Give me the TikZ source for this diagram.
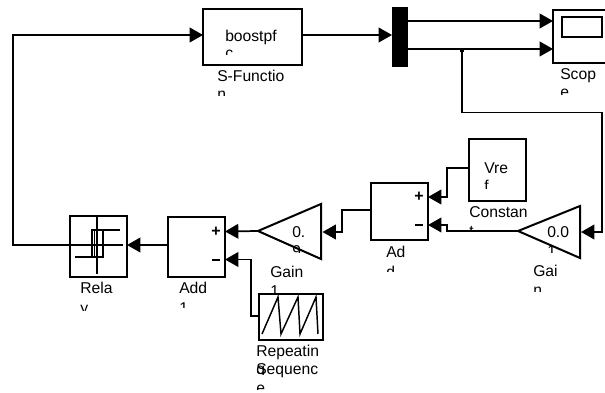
\documentclass[tikz,border=0pt]{standalone}
\usepackage{fontspec}
\setmainfont{Liberation Sans}
\usetikzlibrary{arrows.meta}
\tikzset{
  block/.style={draw=black,line width=1.5pt,fill=white,inner sep=0pt,outer sep=0pt},
  wire/.style={line width=1.3pt,line join=miter},
  flow/.style={wire,-{Triangle[length=10pt,width=11pt]}},
  lbl/.style={inner sep=0pt,anchor=base west,font=\fontsize{11.75pt}{12pt}\selectfont},
  port/.style={inner sep=0pt,font=\fontsize{12pt}{12pt}\bfseries\selectfont},
}
% x, baseline, text, clip bottom
\newcommand{\cliplabel}[4]{\begin{scope}\clip (#1-2,#2-16) rectangle (#1+80,#4);\node[lbl] at (#1,#2) {#3};\end{scope}}
\begin{document}
\begin{tikzpicture}[x=0.75pt,y=-0.75pt]
\useasboundingbox (0,0) rectangle (605,392);
\fill[white] (0,0) rectangle (605,392);
% blocks
\node[block,minimum width=74.25pt,minimum height=41.6pt] (sfun) at (252.5,37) {};
\node[fill=black,inner sep=0pt,outer sep=0pt,minimum width=12pt,minimum height=45pt] (mux) at (400,37) {};
\node[block,minimum width=46.5pt,minimum height=39.5pt] (scope) at (584,36.3) {};
\draw[line width=1.5pt] (562,17) rectangle (602,37);
\node[block,minimum width=42.75pt,minimum height=46.5pt] (const) at (497.5,170) {};
\node[block,minimum width=42.75pt,minimum height=42.75pt] (add) at (399.5,211.5) {};
\node[block,minimum width=42.75pt,minimum height=45pt] (addone) at (196.5,247) {};
\node[block,minimum width=42.75pt,minimum height=45.75pt] (relay) at (98.5,246.5) {};
\node[block,minimum width=48pt,minimum height=34.5pt] (rep) at (291,317) {};
\coordinate (gtip) at (518,231);
\coordinate (gin) at (581,232);
\draw[line width=1.5pt,line join=miter,fill=white] (gtip) -- (580,206) -- (580,258) -- cycle;
\coordinate (gonetip) at (258,231);
\coordinate (gonein) at (322.5,232);
\draw[line width=1.5pt,line join=miter,fill=white] (gonetip) -- (321,204) -- (321,259) -- cycle;
% relay icon
\draw[line width=1.1pt] (97,216) -- (97,274) (70,245) -- (123,245);
\draw[line width=1.1pt] (75,257) -- (103,257) -- (103,230) (120,230) -- (92,230) -- (92,257);
\draw[line width=0.8pt] (94.5,230) -- (94.5,257);
% sawtooth
\draw[line width=1.1pt,line join=miter] (262,334) -- (278,297) -- (281,334) -- (298,297) -- (300,334) -- (316,297) -- (318,334);
% connectors
\coordinate (back) at (13,245);
\draw[flow] (relay.west |- 0,245) -- (back) |- (sfun.west |- 0,35);
\draw[flow] (sfun.east |- 0,35) -- (mux.west |- 0,35);
\draw[flow] (mux.east |- 0,21) -- (scope.west |- 0,21);
\draw[flow] (mux.east |- 0,49) -- (scope.west |- 0,49);
\node[fill=black,inner sep=0pt,minimum size=3.2pt] (junction) at (462,50) {};
\coordinate (fb) at (602,112.5);
\draw[flow] (junction.center) |- (fb) |- (gin);
\draw[flow] (gtip) -- (447,231) -- (447,225) -- (add.east |- 0,225);
\draw[flow] (const.west |- 0,168) -- (447,168) |- (add.east |- 0,197);
\draw[flow] (add.west |- 0,210) -- (342,210) |- (gonein);
\draw[flow] (gonetip) -- (addone.east |- 0,231.5);
\draw[flow] (rep.west |- 0,316) -- (251,316) |- (addone.east |- 0,259.5);
\draw[flow] (addone.west |- 0,245) -- (relay.east |- 0,245);
% ports
\node[port] (ap) at (419,197) {+};
\node[port] (am) at (419,224.5) {\rule{6pt}{1.5pt}};
\node[port] (bp) at (216,231.5) {+};
\node[port] (bm) at (216,259.5) {\rule{6pt}{1.5pt}};
% texts
\node[lbl] (t1) at (225,42) {boostpf};
\cliplabel{225}{59}{c}{55}
\node[lbl] (t2) at (217,82) {S-Functio};
\cliplabel{217}{100}{n}{96}
\node[lbl] (t3) at (560,80) {Scop};
\cliplabel{560}{98}{e}{95}
\node[lbl] (t4) at (484,173) {Vre};
\cliplabel{484}{191}{f}{188}
\node[lbl] (t5) at (469,217) {Constan};
\cliplabel{469}{236}{t}{231}
\node[lbl] (t6) at (547,237) {0.0};
\cliplabel{547}{256}{1}{252}
\node[lbl] (t7) at (533,276) {Gai};
\cliplabel{533}{295}{n}{291.5}
\node[lbl] (t8) at (386,257) {Ad};
\cliplabel{386}{277}{d}{271}
\node[lbl] (t9) at (292,237) {0.};
\cliplabel{292}{256}{9}{252}
\node[lbl] (t10) at (270,277) {Gain};
\cliplabel{270}{296.5}{1}{293.5}
\node[lbl] (t11) at (179,293) {Add};
\cliplabel{179}{313}{1}{307}
\node[lbl] (t12) at (80,293) {Rela};
\cliplabel{80}{313}{y}{310}
\node[lbl] (t13) at (256,356) {Repeatin};
\cliplabel{256}{374}{g}{374}
\node[lbl] (t15) at (256,374) {Sequenc};
\cliplabel{256}{393}{e}{389.5}
\end{tikzpicture}
\end{document}
